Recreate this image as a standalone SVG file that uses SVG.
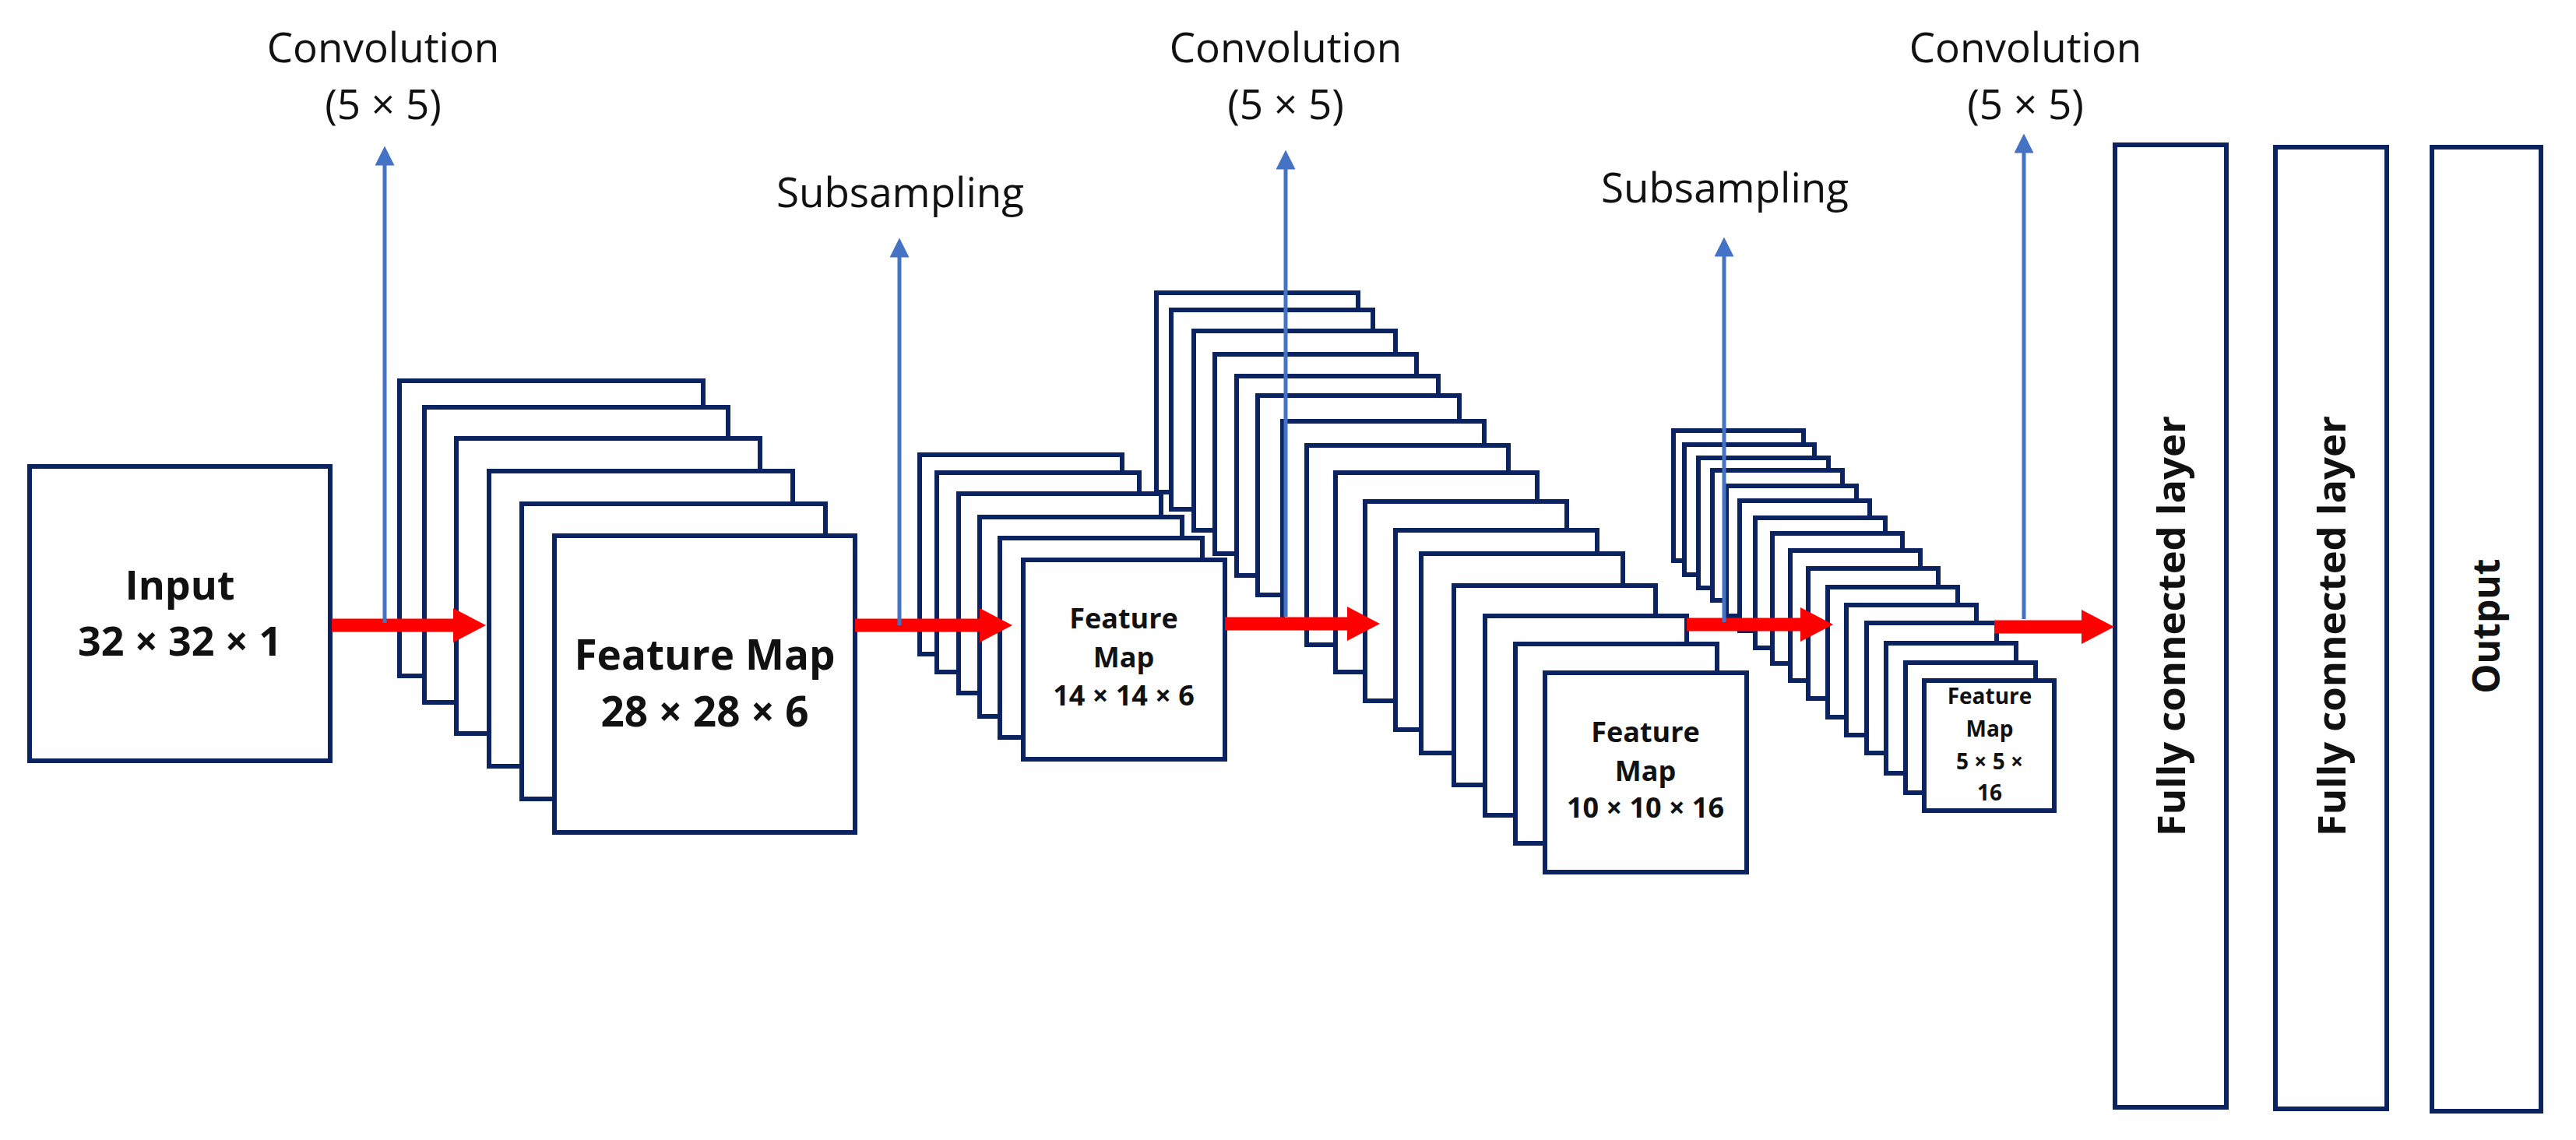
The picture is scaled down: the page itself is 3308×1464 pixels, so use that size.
<svg xmlns="http://www.w3.org/2000/svg" width="3308" height="1464" viewBox="0 0 3308 1464">
<style>
.b{fill:#fff;stroke:#0b2461;stroke-width:6}
.t{font-family:"Open Sans","Liberation Sans",sans-serif;font-size:53px;fill:#111;text-anchor:middle}
.bt{font-family:"Open Sans","Liberation Sans",sans-serif;font-weight:bold;fill:#111;text-anchor:middle}
.bl{stroke:#4472c4;stroke-width:5;fill:none;marker-end:url(#ba)}
.rl{stroke:#ff0000;stroke-width:17}
.rh{fill:#ff0000}
</style>
<defs>
<marker id="ba" viewBox="0 0 10 10" refX="5" refY="5" markerWidth="5" markerHeight="5" orient="auto" markerUnits="strokeWidth"><path d="M0,0 L10,5 L0,10 z" fill="#4472c4"/></marker>
</defs>
<rect width="3308" height="1464" fill="#fff"/>
<g id="labels">
<text class="t" x="492" y="80">Convolution</text><text class="t" x="492" y="153">(5 × 5)</text>
<text class="t" x="1156" y="266">Subsampling</text>
<text class="t" x="1651" y="80">Convolution</text><text class="t" x="1651" y="153">(5 × 5)</text>
<text class="t" x="2215" y="260">Subsampling</text>
<text class="t" x="2601" y="80">Convolution</text><text class="t" x="2601" y="153">(5 × 5)</text>
</g>
<g id="input">
<rect class="b" x="38" y="599" width="386" height="378"/>
<text class="bt" font-size="52" x="231" y="770">Input</text>
<text class="bt" font-size="52" x="231" y="842">32 × 32 × 1</text>
</g>
<g id="fm1">
<rect class="b" x="513" y="489" width="390" height="379"/>
<rect class="b" x="545" y="523" width="390" height="379"/>
<rect class="b" x="586" y="563" width="390" height="379"/>
<rect class="b" x="628" y="605" width="390" height="379"/>
<rect class="b" x="670" y="647" width="390" height="379"/>
<rect class="b" x="712" y="688" width="386" height="381"/>
<text class="bt" font-size="53" x="905" y="860">Feature Map</text>
<text class="bt" font-size="53" x="905" y="933">28 × 28 × 6</text>
</g>
<g id="fm3">
<rect class="b" x="1485" y="376" width="259" height="256"/>
<rect class="b" x="1504" y="398" width="259" height="256"/>
<rect class="b" x="1533" y="425" width="259" height="256"/>
<rect class="b" x="1560" y="455" width="259" height="256"/>
<rect class="b" x="1588" y="483" width="259" height="256"/>
<rect class="b" x="1615" y="508" width="259" height="256"/>
<rect class="b" x="1647" y="541" width="259" height="256"/>
<rect class="b" x="1678" y="572" width="259" height="256"/>
<rect class="b" x="1715" y="607" width="259" height="256"/>
<rect class="b" x="1753" y="644" width="259" height="256"/>
<rect class="b" x="1792" y="681" width="259" height="256"/>
<rect class="b" x="1825" y="711" width="259" height="256"/>
<rect class="b" x="1867" y="752" width="259" height="256"/>
<rect class="b" x="1907" y="791" width="259" height="256"/>
<rect class="b" x="1946" y="827" width="259" height="256"/>
<rect class="b" x="1984" y="864" width="259" height="256"/>
<text class="bt" font-size="36" x="2113" y="953">Feature</text>
<text class="bt" font-size="36" x="2113" y="1003">Map</text>
<text class="bt" font-size="36" x="2113" y="1050">10 × 10 × 16</text>
</g>
<g id="fm2">
<rect class="b" x="1181" y="584" width="260" height="256"/>
<rect class="b" x="1203" y="607" width="260" height="256"/>
<rect class="b" x="1231" y="634" width="260" height="256"/>
<rect class="b" x="1258" y="664" width="260" height="256"/>
<rect class="b" x="1284" y="691" width="260" height="256"/>
<rect class="b" x="1314" y="719" width="259" height="256"/>
<text class="bt" font-size="36" x="1443" y="807">Feature</text>
<text class="bt" font-size="36" x="1443" y="857">Map</text>
<text class="bt" font-size="36" x="1443" y="906">14 × 14 × 6</text>
</g>
<g id="fm4">
<rect class="b" x="2149" y="553" width="167" height="167"/>
<rect class="b" x="2163" y="571" width="167" height="167"/>
<rect class="b" x="2181" y="588" width="167" height="167"/>
<rect class="b" x="2199" y="604" width="167" height="167"/>
<rect class="b" x="2217" y="624" width="167" height="167"/>
<rect class="b" x="2234" y="643" width="167" height="167"/>
<rect class="b" x="2254" y="665" width="167" height="167"/>
<rect class="b" x="2276" y="685" width="167" height="167"/>
<rect class="b" x="2299" y="707" width="167" height="167"/>
<rect class="b" x="2322" y="730" width="167" height="167"/>
<rect class="b" x="2347" y="754" width="167" height="167"/>
<rect class="b" x="2371" y="777" width="167" height="167"/>
<rect class="b" x="2397" y="800" width="167" height="167"/>
<rect class="b" x="2422" y="826" width="167" height="167"/>
<rect class="b" x="2447" y="851" width="167" height="167"/>
<rect class="b" x="2471" y="874" width="167" height="167"/>
<text class="bt" font-size="28" x="2555" y="904">Feature</text>
<text class="bt" font-size="28" x="2555" y="946">Map</text>
<text class="bt" font-size="28" x="2555" y="988">5 × 5 ×</text>
<text class="bt" font-size="28" x="2555" y="1028">16</text>
</g>
<g id="fc1">
<rect class="b" x="2716" y="186" width="143" height="1236"/>
<text class="bt" font-size="48" transform="translate(2806,804) rotate(-90)" textLength="540" lengthAdjust="spacingAndGlyphs">Fully connected layer</text>
</g>
<g id="fc2">
<rect class="b" x="2922" y="189" width="143" height="1235"/>
<text class="bt" font-size="48" transform="translate(3012,804) rotate(-90)" textLength="540" lengthAdjust="spacingAndGlyphs">Fully connected layer</text>
</g>
<g id="output">
<rect class="b" x="3123" y="189" width="140" height="1238"/>
<text class="bt" font-size="48" transform="translate(3210,804) rotate(-90)">Output</text>
</g>
<g id="connectors">
<line class="rl" x1="426" y1="803" x2="584" y2="803"/><polygon class="rh" points="582,781 624,803 582,825"/>
<line class="rl" x1="1098" y1="803" x2="1260" y2="803"/><polygon class="rh" points="1258,781 1300,803 1258,825"/>
<line class="rl" x1="1573" y1="801" x2="1732" y2="801"/><polygon class="rh" points="1730,779 1772,801 1730,823"/>
<line class="rl" x1="2166" y1="802" x2="2314" y2="802"/><polygon class="rh" points="2312,780 2354,802 2312,824"/>
<line class="rl" x1="2561" y1="805" x2="2675" y2="805"/><polygon class="rh" points="2673,783 2715,805 2673,827"/>
<line class="bl" x1="494" y1="800" x2="494" y2="200"/>
<line class="bl" x1="1155" y1="803" x2="1155" y2="318"/>
<line class="bl" x1="1651" y1="792" x2="1651" y2="205"/>
<line class="bl" x1="2214" y1="799" x2="2214" y2="317"/>
<line class="bl" x1="2599" y1="795" x2="2599" y2="184"/>
</g>
</svg>
